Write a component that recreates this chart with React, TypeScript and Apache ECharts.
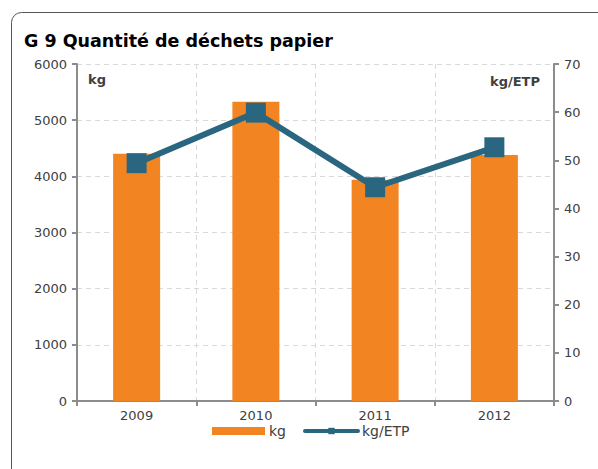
import React, { useEffect, useRef } from "react";
import * as echarts from "echarts";

const categories = ["2009", "2010", "2011", "2012"];
const kgValues = [4400, 5330, 3940, 4380];
const kgEtpValues = [49.4, 59.9, 44.4, 52.7];
const leftTicks = { min: 0, max: 6000, interval: 1000 };
const rightTicks = { min: 0, max: 70, interval: 10 };

const FONT = "DejaVu Sans";

export default function App() {
  const ref = useRef<HTMLDivElement>(null);
  useEffect(() => {
    const chart = echarts.init(ref.current!, null, { renderer: "svg" });
    chart.setOption({
      animation: false,
      backgroundColor: "#ffffff",
      textStyle: { fontFamily: FONT },
      graphic: [
        {
          type: "rect",
          shape: { x: 11.5, y: 12.5, width: 620, height: 520, r: 10 },
          style: { fill: "none", stroke: "#555555", lineWidth: 1 },
          z: -10,
        },
        {
          type: "text",
          left: 24,
          top: 32,
          style: {
            text: "G 9 Quantité de déchets papier",
            font: `bold 17.5px "${FONT}"`,
            fill: "#000000",
          },
        },
        {
          type: "text",
          left: 88,
          top: 73,
          style: { text: "kg", font: `bold 13px "${FONT}"`, fill: "#404040" },
        },
        {
          type: "text",
          right: 58,
          top: 75,
          style: { text: "kg/ETP", font: `bold 13px "${FONT}"`, fill: "#404040" },
        },
      ],
      grid: { left: 77, right: 44, top: 64, bottom: 68, containLabel: false },
      legend: {
        top: 419,
        left: 207,
        itemWidth: 53,
        itemHeight: 8,
        itemGap: 17,
        textStyle: { fontSize: 14, color: "#404040", fontFamily: FONT, padding: [0, 0, 0, -1] },
        data: [
          { name: "kg", icon: "rect" },
          { name: "kg/ETP", lineStyle: { width: 4, cap: "round" } },
        ],
      },
      xAxis: {
        type: "category",
        data: categories,
        axisLine: { lineStyle: { color: "#8c8c8c", width: 2 } },
        axisTick: { show: true, length: 5, lineStyle: { color: "#8c8c8c", width: 2 } },
        axisLabel: { fontSize: 13, color: "#404040", margin: 8 },
        splitLine: { show: true, lineStyle: { color: "#d9d9d9", type: [5, 4], width: 1 } },
      },
      yAxis: [
        {
          type: "value",
          ...leftTicks,
          position: "left",
          axisLine: { show: true, lineStyle: { color: "#8c8c8c", width: 2 } },
          axisTick: { show: true, length: 5, lineStyle: { color: "#8c8c8c", width: 2 } },
          axisLabel: { fontSize: 13, color: "#404040", margin: 10, formatter: (v: number) => String(v) },
          splitLine: { show: true, lineStyle: { color: "#d9d9d9", type: [5, 4], width: 1 } },
        },
        {
          type: "value",
          ...rightTicks,
          position: "right",
          axisLine: { show: true, lineStyle: { color: "#8c8c8c", width: 2 } },
          axisTick: { show: true, length: 5, lineStyle: { color: "#8c8c8c", width: 2 } },
          axisLabel: { fontSize: 13, color: "#404040", margin: 10, formatter: (v: number) => String(v) },
          splitLine: { show: false },
        },
      ],
      series: [
        {
          name: "kg",
          type: "bar",
          data: kgValues,
          barWidth: 47,
          yAxisIndex: 0,
          itemStyle: { color: "#f28522" },
        },
        {
          name: "kg/ETP",
          type: "line",
          data: kgEtpValues,
          yAxisIndex: 1,
          symbol: "rect",
          symbolSize: 20,
          lineStyle: { color: "#2b6680", width: 6 },
          itemStyle: { color: "#2b6680" },
        },
      ],
    });
    return () => chart.dispose();
  }, []);
  return (
    <div
      ref={ref}
      style={{ position: "fixed", left: 0, top: 0, width: 598, height: 469 }}
    />
  );
}
